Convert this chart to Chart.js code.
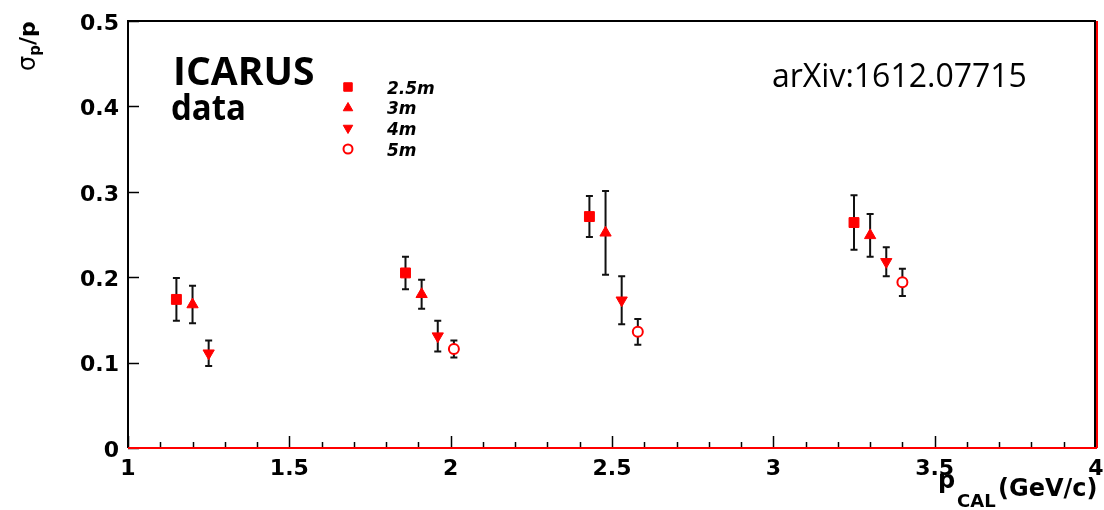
<!DOCTYPE html>
<html>
<head>
<meta charset="utf-8">
<script src="https://cdn.jsdelivr.net/npm/chart.js@4.4.1/dist/chart.umd.min.js"></script>
<style>
  html, body { margin: 0; padding: 0; background: #fff; }
  #wrap { width: 1104px; height: 510px; }
</style>
</head>
<body>
<div id="wrap"><canvas id="chartSigma" width="1104" height="510"></canvas></div>
<script>
/* ── Data ────────────────────────────────────────────────── */
const seriesLabels = ['2.5m', '3m', '4m', '5m'];

const pCal25 = [1.15, 1.86, 2.43, 3.25];
const sigma25 = [0.174, 0.205, 0.271, 0.264];
const err25 = [0.025, 0.019, 0.024, 0.032];

const pCal3 = [1.20, 1.91, 2.48, 3.30];
const sigma3 = [0.168, 0.180, 0.252, 0.249];
const err3 = [0.022, 0.017, 0.049, 0.025];

const pCal4 = [1.25, 1.96, 2.53, 3.35];
const sigma4 = [0.111, 0.131, 0.173, 0.218];
const err4 = [0.015, 0.018, 0.028, 0.017];

const pCal5 = [2.01, 2.58, 3.40];
const sigma5 = [0.116, 0.136, 0.194];
const err5 = [0.010, 0.015, 0.016];

const xTickValues = [1, 1.5, 2, 2.5, 3, 3.5, 4];
const yTickValues = [0, 0.1, 0.2, 0.3, 0.4, 0.5];

const RED = '#ff0000';
const tickFont = { family: "'DejaVu Sans', sans-serif", size: 22, weight: 'bold' };

const toPoints = (xs, ys) => xs.map((x, i) => ({ x, y: ys[i] }));

const markerStyles = [
  { pointStyle: 'rect', rotation: 0, radius: 7, fill: RED },
  { pointStyle: 'triangle', rotation: 0, radius: 6.5, fill: RED },
  { pointStyle: 'triangle', rotation: 180, radius: 6.5, fill: RED },
  { pointStyle: 'circle', rotation: 0, radius: 5, fill: '#fff' },
];

const seriesData = [
  [pCal25, sigma25, err25],
  [pCal3, sigma3, err3],
  [pCal4, sigma4, err4],
  [pCal5, sigma5, err5],
];

const datasets = seriesData.map(([xs, ys, es], k) => ({
  label: seriesLabels[k],
  data: toPoints(xs, ys),
  errors: es,
  pointStyle: markerStyles[k].pointStyle,
  rotation: markerStyles[k].rotation,
  pointRadius: markerStyles[k].radius,
  pointHoverRadius: markerStyles[k].radius,
  pointBackgroundColor: markerStyles[k].fill,
  pointBorderColor: RED,
  pointBorderWidth: k === 3 ? 2 : 1,
  showLine: false,
}));

/* ── Error bars (drawn under the markers) ────────────────── */
const errorBars = {
  id: 'errorBars',
  beforeDatasetsDraw(chart) {
    const { ctx, scales: { x, y } } = chart;
    ctx.save();
    ctx.strokeStyle = '#111';
    ctx.lineWidth = 2;
    chart.data.datasets.forEach(ds => {
      ds.data.forEach((p, i) => {
        const px = x.getPixelForValue(p.x);
        const top = y.getPixelForValue(p.y + ds.errors[i]);
        const bot = y.getPixelForValue(p.y - ds.errors[i]);
        ctx.beginPath();
        ctx.moveTo(px, top);
        ctx.lineTo(px, bot);
        ctx.moveTo(px - 3.5, top);
        ctx.lineTo(px + 3.5, top);
        ctx.moveTo(px - 3.5, bot);
        ctx.lineTo(px + 3.5, bot);
        ctx.stroke();
      });
    });
    ctx.restore();
  },
};

/* ── ROOT-style frame with inward ticks ──────────────────── */
const rootFrame = {
  id: 'rootFrame',
  afterDatasetsDraw(chart) {
    const { ctx, chartArea: a, scales: { x, y } } = chart;
    ctx.save();
    ctx.lineWidth = 1.5;
    ctx.strokeStyle = '#000';
    // minor / major x ticks every 0.1
    for (let i = 10; i <= 40; i++) {
      const px = Math.round(x.getPixelForValue(i / 10)) + 0.5;
      const len = i % 5 === 0 ? 12 : 6;
      ctx.beginPath();
      ctx.moveTo(px, a.bottom);
      ctx.lineTo(px, a.bottom - len);
      ctx.stroke();
    }
    yTickValues.forEach(v => {
      const py = Math.round(y.getPixelForValue(v)) + 0.5;
      ctx.beginPath();
      ctx.moveTo(a.left, py);
      ctx.lineTo(a.left + 11, py);
      ctx.stroke();
    });
    // frame
    ctx.lineWidth = 2;
    ctx.beginPath();
    ctx.moveTo(a.left, a.bottom);
    ctx.lineTo(a.left, a.top);
    ctx.lineTo(a.right - 1, a.top);
    ctx.lineTo(a.right - 1, a.bottom);
    ctx.stroke();
    ctx.strokeStyle = RED;
    ctx.beginPath();
    ctx.moveTo(a.left, a.bottom);
    ctx.lineTo(a.right + 1, a.bottom);
    ctx.moveTo(a.right + 1, a.bottom);
    ctx.lineTo(a.right + 1, a.top);
    ctx.stroke();
    ctx.restore();
  },
};

/* ── Titles, labels and legend ───────────────────────────── */
const annotations = {
  id: 'annotations',
  afterDraw(chart) {
    const { ctx } = chart;
    ctx.save();
    ctx.fillStyle = '#000';
    ctx.textAlign = 'left';
    ctx.textBaseline = 'alphabetic';

    // y title: sigma_p / p
    ctx.save();
    ctx.translate(35, 71);
    ctx.rotate(-Math.PI / 2);
    ctx.font = "24px 'DejaVu Sans'";
    ctx.fillText('σ', 0, 0);
    let w = ctx.measureText('σ').width;
    ctx.font = "bold 15px 'DejaVu Sans'";
    ctx.fillText('p', w, 5);
    w += ctx.measureText('p').width;
    ctx.font = "bold 22px 'DejaVu Sans'";
    ctx.fillText('/p', w, 0);
    ctx.restore();

    // x title: p_CAL (GeV/c)
    ctx.font = "bold 24px 'DejaVu Sans'";
    ctx.fillText('p', 938, 488);
    ctx.font = "bold 18px 'DejaVu Sans'";
    ctx.fillText('CAL', 957, 507);
    ctx.font = "bold 24px 'DejaVu Sans'";
    ctx.fillText('(GeV/c)', 998, 496);

    // ICARUS / data
    ctx.font = "bold 39px 'Open Sans'";
    ctx.fillText('ICARUS', 173, 85, 147);
    ctx.font = "bold 35px 'Open Sans'";
    ctx.fillText('data', 171, 120, 75);

    // arXiv reference
    ctx.font = "32px 'Open Sans'";
    ctx.fillText('arXiv:1612.07715', 772, 87, 262);

    // legend
    const rowY = [87, 108, 128, 149];
    const baseY = [94, 114, 135, 156];
    const legendSize = [6, 5.5, 5.5, 4.5];
    chart.data.datasets.forEach((ds, k) => {
      ctx.fillStyle = ds.pointBackgroundColor;
      ctx.strokeStyle = RED;
      ctx.lineWidth = ds.pointBorderWidth;
      Chart.helpers.drawPoint(ctx, {
        pointStyle: ds.pointStyle,
        rotation: ds.rotation,
        radius: legendSize[k],
        borderWidth: ds.pointBorderWidth,
      }, 348, rowY[k]);
      ctx.fillStyle = '#000';
      ctx.font = "italic bold 17px 'DejaVu Sans'";
      ctx.fillText(ds.label, 387, baseY[k]);
    });
    ctx.restore();
  },
};

new Chart(document.getElementById('chartSigma'), {
  type: 'scatter',
  data: { datasets },
  options: {
    responsive: false,
    animation: false,
    layout: { padding: { top: 21, right: 4, left: 0, bottom: 0 } },
    plugins: {
      legend: { display: false },
      tooltip: { enabled: false },
    },
    scales: {
      x: {
        type: 'linear',
        min: 1,
        max: 4,
        afterFit: s => { s.height = 62; s.paddingLeft = 0; s.paddingRight = 0; },
        afterBuildTicks: s => { s.ticks = xTickValues.map(v => ({ value: v })); },
        grid: { display: false, drawTicks: false },
        border: { display: false },
        ticks: {
          color: '#000',
          font: tickFont,
          padding: 8,
          autoSkip: false,
          maxRotation: 0,
          callback: v => String(Number(v)),
        },
      },
      y: {
        type: 'linear',
        min: 0,
        max: 0.5,
        afterFit: s => { s.width = 128; s.paddingTop = 0; s.paddingBottom = 0; },
        afterBuildTicks: s => { s.ticks = yTickValues.map(v => ({ value: v })); },
        grid: { display: false, drawTicks: false },
        border: { display: false },
        ticks: {
          color: '#000',
          font: tickFont,
          padding: 9,
          labelOffset: 3,
          callback: v => String(Number(v)),
        },
      },
    },
  },
  plugins: [errorBars, rootFrame, annotations],
});
</script>
</body>
</html>
